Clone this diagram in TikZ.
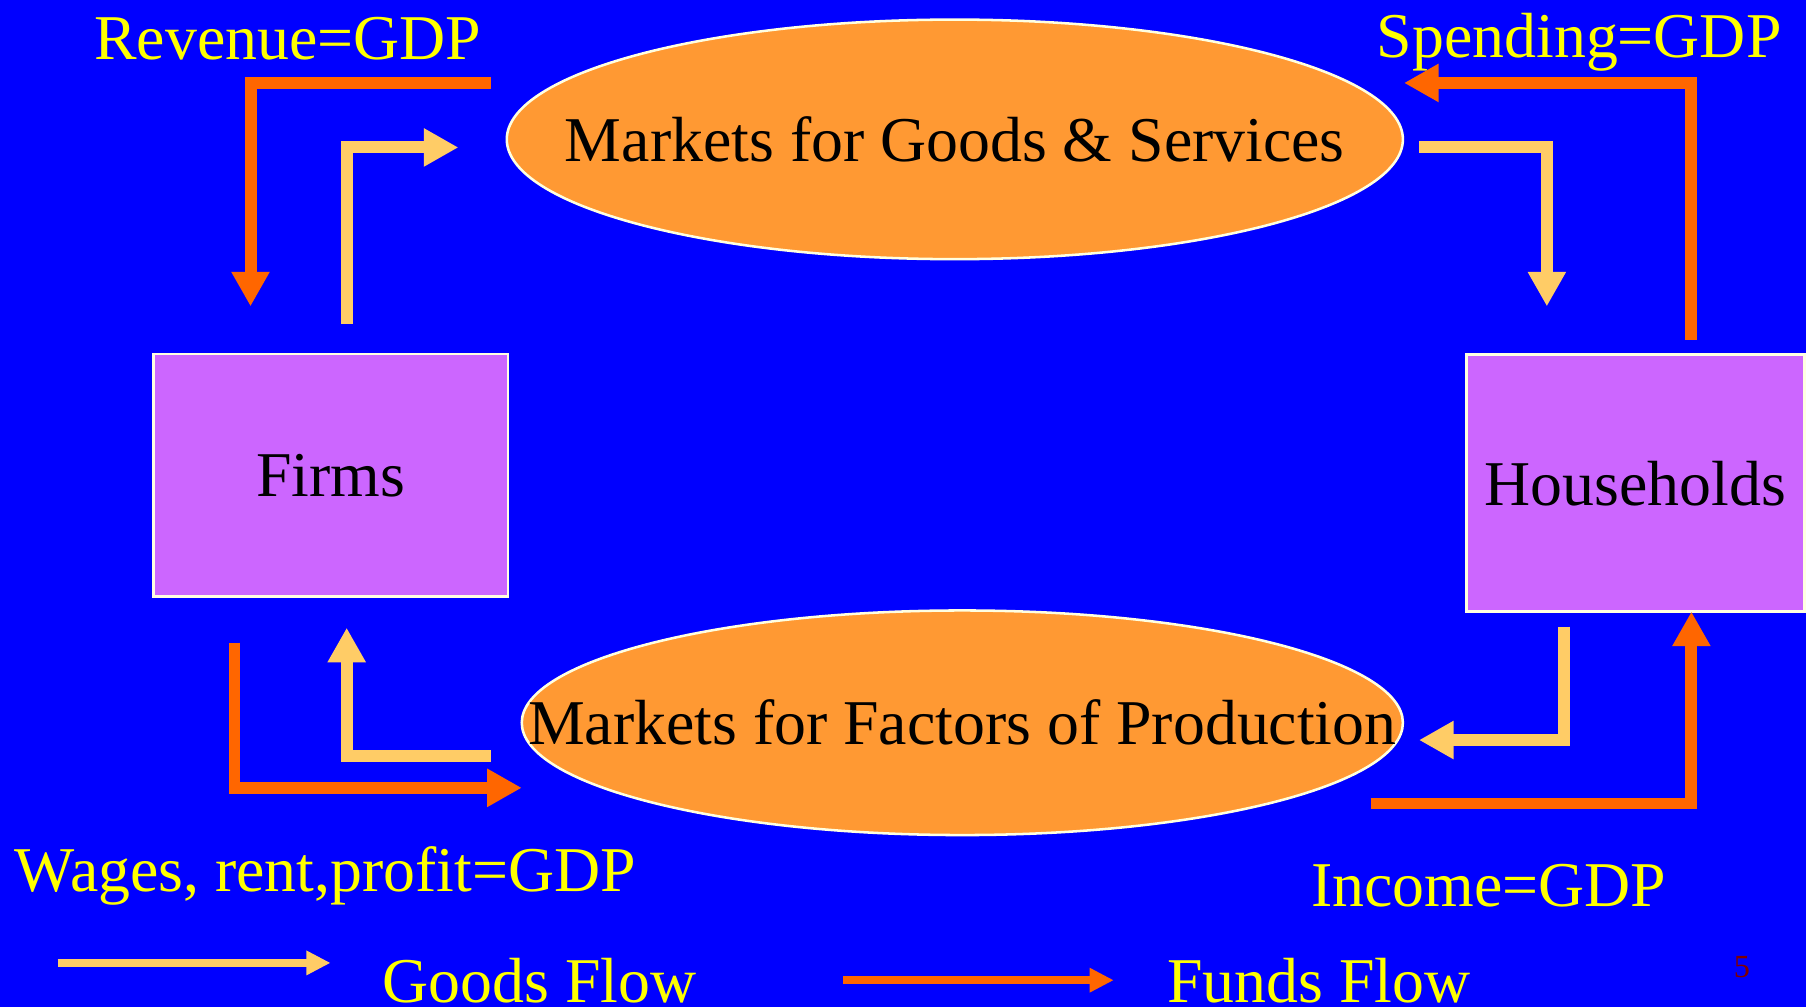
\documentclass[tikz,border=0pt]{standalone}
\usepackage{fontspec}
\setmainfont{Liberation Serif}
\usetikzlibrary{arrows.meta,shapes.geometric}

\definecolor{slide}{RGB}{0,0,255}
\definecolor{market}{RGB}{255,153,51}
\definecolor{agent}{RGB}{204,102,255}
\definecolor{fundsc}{RGB}{255,102,0}
\definecolor{goodsc}{RGB}{255,204,102}
\definecolor{labelc}{RGB}{255,255,0}
\definecolor{rim}{RGB}{255,255,225}
\definecolor{pagenum}{RGB}{128,0,0}

\newcommand{\bigtext}{\fontsize{27.7pt}{32pt}\selectfont}
% text set in a zero-width box so that the ellipse keeps its given size
\newcommand{\ovaltext}[1]{\makebox[0pt][c]{#1}}

\tikzset{
  marketnode/.style={ellipse, fill=market, draw=rim, line width=1.1pt, inner sep=0pt, text=black, font=\bigtext},
  agentnode/.style={rectangle, fill=agent, draw=rim, line width=1.1pt, inner sep=0pt, text=black, font=\bigtext},
  flowlabel/.style={text=labelc, font=\bigtext, inner sep=0pt, anchor=base west},
  fundsflow/.style={draw=fundsc, line width=5.2pt, line join=miter, -{Triangle[length=15pt,width=15.6pt]}},
  goodsflow/.style={draw=goodsc, line width=5.2pt, line join=miter, -{Triangle[length=15pt,width=15.6pt]}},
  fundskey/.style={draw=fundsc, line width=3.5pt, -{Triangle[length=10.5pt,width=10pt]}},
  goodskey/.style={draw=goodsc, line width=3.7pt, -{Triangle[length=10.5pt,width=10pt]}}
}

\begin{document}
\begin{tikzpicture}[x=0.5pt, y=-0.5pt]
  % slide background
  \fill[slide] (0,0) rectangle (1568,874);
  \useasboundingbox (0,0) rectangle (1568,874);

  % markets and agents
  \node[marketnode, minimum width=389pt, minimum height=104pt] (goodsmkt) at (829,121) {\ovaltext{Markets for Goods \& Services}};
  \node[marketnode, minimum width=382.5pt, minimum height=97.5pt] (factormkt) at (835.5,627.5) {\ovaltext{Markets for Factors of Production}};
  \node[agentnode, minimum width=153.75pt, minimum height=105.25pt] (firms) at (287.25,412.75) {Firms};
  \node[agentnode, minimum width=146.75pt, minimum height=111.5pt] (households) at (1419.75,419.5) {Households};

  % labels
  \node[flowlabel] (revenue) at (81.5,51.5) {Revenue=GDP};
  \node[flowlabel] (spending) at (1195,50) {Spending=GDP};
  \node[flowlabel] (wages) at (12.6,774) {Wages, rent,profit=GDP};
  \node[flowlabel] (income) at (1138,787) {Income=GDP};
  \node[flowlabel] (goodskeytxt) at (332,870) {Goods Flow};
  \node[flowlabel] (fundskeytxt) at (1013,870) {Funds Flow};
  \node[text=pagenum, font=\fontsize{14pt}{16pt}\selectfont, inner sep=0pt, anchor=base west] (pageno) at (1505,849) {5};

  % end points of the flow arrows
  \coordinate (fA1) at (426,72);     \coordinate (fA2) at (217.5,266);
  \coordinate (fB1) at (203.6,558);  \coordinate (fB2) at (453,684);
  \coordinate (fC1) at (1190,697.6); \coordinate (fC2) at (1468.5,531);
  \coordinate (fD1) at (1468.5,295); \coordinate (fD2) at (1219,72);
  \coordinate (gA1) at (301,281);    \coordinate (gA2) at (398,128);
  \coordinate (gB1) at (1232,128);   \coordinate (gB2) at (1343,266);
  \coordinate (gC1) at (1357.6,544); \coordinate (gC2) at (1232,642.5);
  \coordinate (gD1) at (426,656);    \coordinate (gD2) at (301,545);

  % funds flow (dark orange)
  \draw[fundsflow] (fA1) -| (fA2);
  \draw[fundsflow] (fB1) |- (fB2);
  \draw[fundsflow] (fC1) -| (fC2);
  \draw[fundsflow] (fD1) |- (fD2);

  % goods flow (light orange)
  \draw[goodsflow] (gA1) |- (gA2);
  \draw[goodsflow] (gB1) -| (gB2);
  \draw[goodsflow] (gC1) |- (gC2);
  \draw[goodsflow] (gD1) -| (gD2);

  % legend arrows
  \coordinate (kg1) at (50,836);  \coordinate (kg2) at (287,836);
  \coordinate (kf1) at (732,851); \coordinate (kf2) at (967,851);
  \draw[goodskey] (kg1) -- (kg2);
  \draw[fundskey] (kf1) -- (kf2);
\end{tikzpicture}
\end{document}
